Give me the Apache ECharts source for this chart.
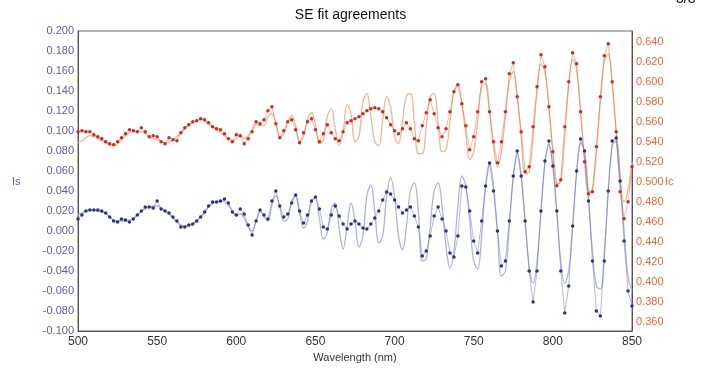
<!DOCTYPE html>
<html><head><meta charset="utf-8">
<script src="https://cdn.jsdelivr.net/npm/echarts@6/dist/echarts.min.js"></script>
<style>html,body{margin:0;padding:0;background:#fff}#c{width:701px;height:369px}</style>
</head><body><div id="c"></div>
<script>
var wavelength = [500,502.5,505,507.5,510,512.5,515,517.5,520,522.5,525,527.5,530,532.5,535,537.5,540,542.5,545,547.5,
550,552.5,555,557.5,560,562.5,565,567.5,570,572.5,575,577.5,580,582.5,585,587.5,590,592.5,595,597.5,
600,602.5,605,607.5,610,612.5,615,617.5,620,622.5,625,627.5,630,632.5,635,637.5,640,642.5,645,647.5,
650,652.5,655,657.5,660,662.5,665,667.5,670,672.5,675,677.5,680,682.5,685,687.5,690,692.5,695,697.5,
700,702.5,705,707.5,710,712.5,715,717.5,720,722.5,725,727.5,730,732.5,735,737.5,740,742.5,745,747.5,
750,752.5,755,757.5,760,762.5,765,767.5,770,772.5,775,777.5,780,782.5,785,787.5,790,792.5,795,797.5,
800,802.5,805,807.5,810,812.5,815,817.5,820,822.5,825,827.5,830,832.5,835,837.5,840,842.5,845,847.5,850];

var icMeasured = [0.550,0.551,0.550,0.550,0.547,0.545,0.543,0.540,0.538,0.537,0.540,0.544,0.548,0.552,0.551,0.550,0.554,0.550,0.545,0.546,
0.545,0.540,0.538,0.544,0.542,0.541,0.549,0.554,0.557,0.560,0.561,0.563,0.562,0.559,0.555,0.553,0.552,0.548,0.543,0.540,
0.547,0.546,0.538,0.543,0.550,0.560,0.558,0.562,0.571,0.575,0.558,0.544,0.551,0.560,0.562,0.552,0.539,0.549,0.560,0.563,
0.552,0.540,0.548,0.557,0.549,0.543,0.541,0.550,0.559,0.561,0.563,0.565,0.568,0.571,0.573,0.574,0.573,0.570,0.564,0.557,
0.551,0.548,0.553,0.559,0.553,0.543,0.541,0.556,0.569,0.582,0.568,0.554,0.545,0.553,0.570,0.590,0.597,0.578,0.556,0.532,
0.545,0.570,0.600,0.603,0.570,0.540,0.519,0.540,0.570,0.608,0.619,0.585,0.550,0.510,0.515,0.555,0.595,0.627,0.615,0.575,
0.530,0.496,0.502,0.555,0.600,0.629,0.618,0.570,0.520,0.488,0.490,0.535,0.585,0.626,0.638,0.600,0.550,0.490,0.463,0.480,0.515];

var icFit = [0.539,0.541,0.544,0.546,0.545,0.543,0.541,0.539,0.537,0.536,0.538,0.542,0.546,0.549,0.550,0.550,0.550,0.548,0.545,0.543,
0.542,0.540,0.539,0.540,0.542,0.545,0.549,0.553,0.557,0.559,0.561,0.562,0.561,0.558,0.555,0.552,0.549,0.546,0.543,0.541,
0.543,0.546,0.543,0.546,0.552,0.558,0.556,0.556,0.565,0.568,0.558,0.545,0.548,0.560,0.566,0.556,0.540,0.545,0.562,0.569,
0.557,0.538,0.542,0.565,0.573,0.553,0.536,0.550,0.577,0.568,0.540,0.545,0.580,0.588,0.565,0.540,0.536,0.562,0.585,0.575,
0.545,0.538,0.560,0.586,0.588,0.560,0.528,0.528,0.555,0.585,0.588,0.560,0.530,0.532,0.560,0.590,0.597,0.578,0.548,0.522,
0.530,0.560,0.595,0.598,0.570,0.535,0.515,0.530,0.565,0.600,0.610,0.585,0.545,0.508,0.510,0.545,0.590,0.617,0.610,0.575,
0.530,0.498,0.500,0.545,0.595,0.622,0.612,0.570,0.522,0.490,0.492,0.530,0.580,0.620,0.628,0.598,0.550,0.500,0.480,0.492,0.520];

var isMeasured = [0.012,0.016,0.020,0.021,0.021,0.021,0.020,0.018,0.014,0.010,0.009,0.012,0.011,0.009,0.012,0.016,0.020,0.024,0.024,0.023,
0.030,0.022,0.020,0.018,0.014,0.010,0.004,0.004,0.006,0.007,0.010,0.014,0.019,0.025,0.029,0.029,0.030,0.032,0.028,0.019,
0.016,0.022,0.017,0.006,-0.004,0.010,0.021,0.016,0.012,0.030,0.040,0.025,0.014,0.017,0.028,0.036,0.020,0.008,0.016,0.030,
0.034,0.022,0.004,0.002,0.016,0.025,0.015,0.007,0.002,0.007,0.010,0.007,0.003,0.002,0.007,0.013,0.020,0.031,0.039,0.037,
0.031,0.024,0.018,0.021,0.024,0.015,0.004,-0.025,-0.020,-0.005,0.015,0.024,0.012,0.000,-0.022,-0.026,-0.005,0.045,0.044,0.020,
-0.010,-0.022,0.010,0.045,0.068,0.040,0.000,-0.035,-0.030,0.010,0.055,0.080,0.055,0.010,-0.040,-0.071,-0.040,0.020,0.070,0.090,
0.065,0.020,-0.040,-0.082,-0.055,0.005,0.060,0.092,0.080,0.030,-0.030,-0.080,-0.085,-0.030,0.040,0.090,0.093,0.050,-0.010,-0.060,-0.075];

var isFit = [0.016,0.018,0.020,0.021,0.021,0.020,0.019,0.017,0.014,0.011,0.010,0.010,0.010,0.011,0.013,0.016,0.019,0.022,0.024,0.025,
0.025,0.023,0.020,0.017,0.013,0.009,0.006,0.005,0.005,0.007,0.010,0.014,0.019,0.024,0.027,0.029,0.030,0.029,0.026,0.020,
0.015,0.017,0.013,0.004,0.000,0.010,0.020,0.014,0.010,0.026,0.035,0.024,0.010,0.012,0.030,0.036,0.018,0.003,0.010,0.030,
0.033,0.012,-0.008,-0.002,0.022,0.028,0.002,-0.018,0.005,0.028,0.010,-0.016,-0.005,0.035,0.046,0.020,-0.012,-0.005,0.035,0.053,
0.035,-0.005,-0.019,0.005,0.040,0.048,0.020,-0.030,-0.028,0.005,0.040,0.048,0.025,-0.015,-0.037,-0.020,0.025,0.055,0.045,0.010,
-0.030,-0.038,-0.005,0.045,0.068,0.045,0.000,-0.045,-0.040,0.005,0.055,0.078,0.055,0.010,-0.035,-0.052,-0.030,0.020,0.068,0.086,
0.065,0.020,-0.030,-0.052,-0.040,0.005,0.058,0.088,0.080,0.035,-0.020,-0.055,-0.058,-0.020,0.040,0.085,0.090,0.055,0.000,-0.045,-0.060];

var rightTicks = [0.36,0.38,0.40,0.42,0.44,0.46,0.48,0.50,0.52,0.54,0.56,0.58,0.60,0.62,0.64];

function pairs(vals){ return wavelength.map(function(w,i){ return [w, vals[i]]; }); }

var chart = echarts.init(document.getElementById('c'), null, {renderer:'canvas'});
var FONT = 'Liberation Sans, Arial, sans-serif';
chart.setOption({
  animation:false,
  backgroundColor:'#ffffff',
  title:{text:'SE fit agreements', left:'center', top:3, textStyle:{fontFamily:FONT, fontSize:14, fontWeight:'normal', color:'#111'}},
  grid:{left:78, right:69, top:31, bottom:38, show:true, borderColor:'#666', borderWidth:1},
  xAxis:{type:'value', min:500, max:850, interval:50,
    name:'Wavelength (nm)', nameLocation:'middle', nameGap:20,
    nameTextStyle:{fontFamily:FONT, fontSize:11, color:'#333'},
    axisLine:{show:true, onZero:false, lineStyle:{color:'#555'}}, axisTick:{show:false},
    axisLabel:{fontFamily:FONT, fontSize:12, color:'#333', margin:5},
    splitLine:{show:false}},
  yAxis:[
    {type:'value', min:-0.1, max:0.2, interval:0.02, position:'left',
     axisLine:{show:true, onZero:false, lineStyle:{color:'#555'}}, axisTick:{show:false},
     axisLabel:{fontFamily:FONT, fontSize:11, color:'#5a5caa', margin:4, formatter:function(v){return v.toFixed(3);}},
     splitLine:{show:false}},
    {type:'value', min:0.3507, max:0.6507, position:'right',
     axisLine:{show:true, onZero:false, lineStyle:{color:'#555'}}, axisTick:{show:false},
     axisLabel:{fontFamily:FONT, fontSize:11, color:'#e8683c', margin:4, customValues:rightTicks, formatter:function(v){return v.toFixed(3);}},
     splitLine:{show:false}}
  ],
  graphic:[
    {type:'text', left:12, top:176, style:{text:'Is', font:'11px '+FONT, fill:'#5a5caa'}},
    {type:'text', left:665, top:176, style:{text:'Ic', font:'11px '+FONT, fill:'#e8683c'}},
    {type:'text', left:676, top:-8, style:{text:'3/3', font:'14px '+FONT, fill:'#111'}}
  ],
  series:[
    {type:'line', yAxisIndex:1, data:pairs(icFit), smooth:0.4, showSymbol:false, lineStyle:{color:'#f6b48c', width:1.3}, z:2},
    {type:'line', yAxisIndex:0, data:pairs(isFit), smooth:0.4, showSymbol:false, lineStyle:{color:'#aeb4dc', width:1.3}, z:2},
    {type:'line', yAxisIndex:1, data:pairs(icMeasured), symbol:'circle', symbolSize:3.5, showSymbol:true,
     itemStyle:{color:'#c92c20'}, lineStyle:{color:'#e06a50', width:0.7, opacity:0.7}, z:3},
    {type:'line', yAxisIndex:0, data:pairs(isMeasured), symbol:'circle', symbolSize:3.5, showSymbol:true,
     itemStyle:{color:'#2e3280'}, lineStyle:{color:'#6a70b0', width:0.7, opacity:0.7}, z:3}
  ]
});
</script></body></html>
